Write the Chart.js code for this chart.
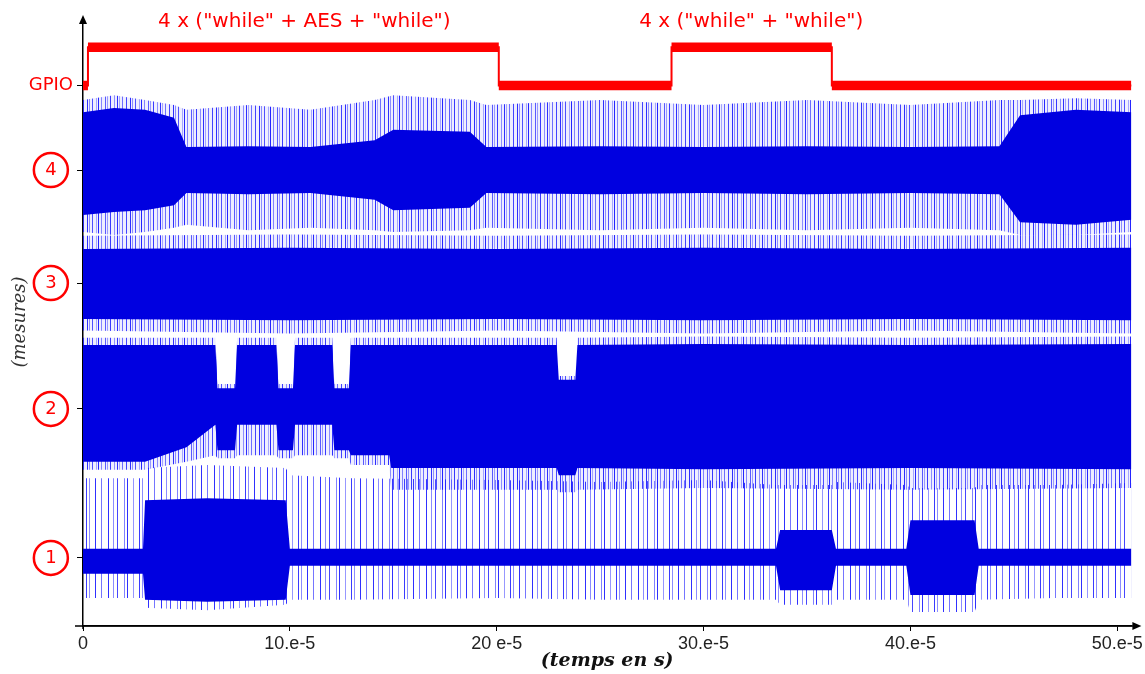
<!DOCTYPE html>
<html>
<head>
<meta charset="utf-8">
<script src="https://cdn.jsdelivr.net/npm/chart.js@4.4.0/dist/chart.umd.min.js"></script>
<style>
  html, body { margin: 0; padding: 0; background: #fff; }
</style>
</head>
<body>
<canvas id="mesures" width="1145" height="674"></canvas>
<script>
/* axe des temps (unité : 1e-5 s) */
const tickTemps = [0, 10, 20, 30, 40, 50];
const tickTempsLabels = ['0', '10.e-5', '20 e-5', '30.e-5', '40.e-5', '50.e-5'];

/* voies : libellés et niveau de repos */
const voies = ['1', '2', '3', '4', 'GPIO'];
const voiesNiveau = [11.2, 35.7, 56.4, 75.0, 88.9];

/* GPIO : créneaux */
const gpioT = [0, 0.24, 20.1, 28.45, 36.2, 50.7];
const gpioEtat = [88.9, 95.2, 88.9, 95.2, 88.9, 88.9];
const gpioBruit = 0.78;

const annotations = ['4 x ("while" + AES + "while")', '4 x ("while" + "while")'];
const annotT = [10.7, 32.3];
const annotNiveau = 99.3;

/* voie 4 : enveloppes (coeur dense, puis pics) */
const t4 = [0, 1.5, 3.0, 4.4, 5.0, 8, 11, 14.1, 15, 18.7, 19.5, 25, 30, 35, 40, 44.3, 45.3, 48, 50.7];
const voie4Haut = [84.5, 85.2, 84.9, 83.6, 78.8, 78.9, 78.8, 79.9, 81.6, 81.3, 78.8, 78.9, 78.8, 78.9, 78.8, 78.9, 84.0, 84.9, 84.5];
const voie4Bas = [67.6, 68.1, 68.4, 69.2, 71.2, 71.0, 71.2, 70.1, 68.4, 68.8, 71.2, 71.0, 71.2, 71.0, 71.2, 71.0, 66.4, 66.0, 66.8];
const voie4Pic = [86.5, 87.3, 86.5, 85.7, 84.9, 85.7, 84.9, 86.5, 87.3, 86.5, 85.7, 86.5, 85.7, 86.5, 85.7, 86.5, 86.5, 86.8, 86.5];
const voie4Creux = [64.8, 64.3, 64.8, 65.5, 66.0, 65.1, 65.5, 65.1, 64.8, 65.1, 65.5, 65.1, 65.5, 65.1, 65.5, 65.1, 64.3, 64.3, 64.8];

/* voie 3 */
const t3 = [0, 10, 20, 30, 40, 50.7];
const voie3Haut = [62.0, 62.2, 62.0, 62.2, 62.0, 62.2];
const voie3Bas = [50.5, 50.3, 50.5, 50.3, 50.5, 50.3];
const voie3Pic = [64.2, 64.4, 64.2, 64.4, 64.2, 64.4];
const voie3Creux = [48.6, 48.1, 48.6, 48.1, 48.6, 48.1];

/* voie 2 */
const t2 = [0, 3, 5, 6.4, 6.5, 7.35, 7.45, 9.35, 9.45, 10.15, 10.25, 12.05, 12.15, 12.85, 12.95, 14.8, 14.9, 22.9, 23.0, 23.8, 23.9, 30, 40, 50.7];
const voie2Haut = [46.2, 46.2, 46.2, 46.2, 39.1, 39.1, 46.2, 46.2, 39.1, 39.1, 46.2, 46.2, 39.1, 39.1, 46.2, 46.2, 46.2, 46.2, 40.5, 40.5, 46.2, 46.4, 46.2, 46.4];
const voie2Bas = [27.0, 27.0, 29.4, 33.1, 28.9, 28.9, 33.1, 33.1, 28.9, 28.9, 33.1, 33.1, 28.9, 28.9, 28.1, 28.1, 26.0, 26.0, 24.8, 24.8, 26.0, 25.8, 26.0, 25.8];
const voie2Pic = [47.4, 47.4, 47.4, 47.4, 39.8, 39.8, 47.4, 47.4, 39.8, 39.8, 47.4, 47.4, 39.8, 39.8, 47.4, 47.4, 47.4, 47.4, 41.1, 41.1, 47.4, 47.6, 47.4, 47.6];
const voie2Creux = [25.7, 25.7, 27.0, 28.1, 27.6, 27.6, 28.1, 28.1, 27.6, 27.6, 28.1, 28.1, 27.6, 27.6, 26.5, 26.5, 22.4, 22.4, 22.0, 22.0, 22.4, 22.7, 22.4, 22.7];

/* voie 1 */
const t1 = [0, 2.9, 3.0, 6, 9.8, 10.0, 13, 20, 25, 30, 33.5, 33.7, 36.2, 36.4, 39.8, 40.0, 43.1, 43.3, 47, 50.7];
const voie1Haut = [12.7, 12.7, 20.7, 21.0, 20.7, 12.7, 12.7, 12.7, 12.7, 12.7, 12.7, 15.8, 15.8, 12.7, 12.7, 17.4, 17.4, 12.7, 12.7, 12.7];
const voie1Bas = [8.6, 8.6, 4.3, 4.0, 4.3, 9.9, 9.9, 9.9, 9.9, 9.9, 9.9, 5.9, 5.9, 9.9, 9.9, 5.1, 5.1, 9.9, 9.9, 9.9];
const voie1Pic = [24.3, 24.3, 26.0, 26.5, 26.0, 24.8, 24.3, 24.0, 23.7, 24.0, 23.2, 23.2, 23.2, 23.7, 23.2, 22.7, 22.7, 23.2, 23.2, 23.5];
const voie1Creux = [4.6, 4.6, 3.0, 2.6, 3.5, 4.3, 4.3, 4.6, 4.3, 4.3, 4.3, 3.5, 3.5, 4.3, 4.3, 2.3, 2.3, 4.3, 4.6, 4.6];

const BLEU = '#0000e0';
const ROUGE = '#ff0000';

// motif de traits verticaux irréguliers pour les pics
function hachures(periode, traits, fond) {
    const c = document.createElement('canvas');
    c.width = periode; c.height = 1;
    const g = c.getContext('2d');
    g.fillStyle = fond;
    g.fillRect(0, 0, periode, 1);
    traits.forEach(([x, a]) => {
        g.fillStyle = 'rgba(25,25,255,' + a + ')';
        g.fillRect(x, 0, 1, 1);
    });
    return g.createPattern(c, 'repeat');
}
const motifDense = hachures(43, [[1, 0.9], [3, 0.45], [6, 0.75], [10, 0.35], [12, 0.95], [15, 0.5], [19, 0.7],
    [21, 0.4], [24, 0.85], [28, 0.45], [31, 0.9], [33, 0.35], [36, 0.6], [40, 0.8]], 'rgba(90,90,255,0.10)');
const motifClair = hachures(53, [[2, 0.9], [7, 0.5], [11, 0.8], [18, 0.55], [21, 0.9], [27, 0.45], [33, 0.85],
    [36, 0.5], [42, 0.9], [48, 0.6]], 'rgba(255,255,255,0)');

function points(t, v) {
    return t.map((x, i) => ({x: x, y: v[i]}));
}

function bande(t, haut, bas, couleur, ordre) {
    return [{
        data: points(t, haut), fill: '+1', backgroundColor: couleur,
        borderColor: 'rgba(0,0,0,0)', borderWidth: 0, pointRadius: 0, order: ordre
    }, {
        data: points(t, bas), fill: false,
        borderColor: 'rgba(0,0,0,0)', borderWidth: 0, pointRadius: 0, order: ordre
    }];
}

function creneau(t, niveaux, decal) {
    const pts = [];
    for (let i = 0; i < t.length; i++) {
        if (i > 0 && niveaux[i] !== niveaux[i - 1]) pts.push({x: t[i], y: niveaux[i - 1] + decal});
        pts.push({x: t[i], y: niveaux[i] + decal});
    }
    return pts;
}

const datasets = [
    {data: creneau(gpioT, gpioEtat, gpioBruit), fill: '+1', backgroundColor: ROUGE,
     borderColor: 'rgba(0,0,0,0)', borderWidth: 0, pointRadius: 0, order: 0},
    {data: creneau(gpioT, gpioEtat, -gpioBruit), fill: false,
     borderColor: 'rgba(0,0,0,0)', borderWidth: 0, pointRadius: 0, order: 0},
    {data: creneau(gpioT, gpioEtat, 0), fill: false, borderColor: ROUGE, borderWidth: 2, pointRadius: 0, order: 0},
    ...bande(t4, voie4Haut, voie4Bas, BLEU, 1),
    ...bande(t4, voie4Pic, voie4Creux, motifDense, 2),
    ...bande(t3, voie3Haut, voie3Bas, BLEU, 1),
    ...bande(t3, voie3Pic, voie3Creux, motifDense, 2),
    ...bande(t2, voie2Haut, voie2Bas, BLEU, 1),
    ...bande(t2, voie2Pic, voie2Creux, motifDense, 2),
    ...bande(t1, voie1Haut, voie1Bas, BLEU, 1),
    ...bande(t1, voie1Pic, voie1Creux, motifClair, 2)
];

const decor = {
    id: 'decor',
    afterDraw(chart) {
        const {ctx, chartArea: a, scales: {x, y}} = chart;
        ctx.save();
        ctx.fillStyle = '#000';
        ctx.strokeStyle = '#000';
        ctx.lineWidth = 1.5;
        // prolongement et flèches des axes
        ctx.beginPath();
        ctx.moveTo(a.left - 8, a.bottom);
        ctx.lineTo(a.right + 2, a.bottom);
        ctx.moveTo(a.left, a.bottom);
        ctx.lineTo(a.left, a.bottom + 3);
        ctx.stroke();
        ctx.beginPath();
        ctx.moveTo(a.right + 10, a.bottom);
        ctx.lineTo(a.right + 1, a.bottom - 4);
        ctx.lineTo(a.right + 1, a.bottom + 4);
        ctx.closePath();
        ctx.fill();
        ctx.beginPath();
        ctx.moveTo(a.left, a.top - 3);
        ctx.lineTo(a.left - 4, a.top + 6);
        ctx.lineTo(a.left + 4, a.top + 6);
        ctx.closePath();
        ctx.fill();
        // cercles autour des numéros de voie
        ctx.font = '18px "DejaVu Sans"';
        const cx = y.right - 6 - 4 - ctx.measureText('GPIO').width / 2;
        ctx.strokeStyle = ROUGE;
        ctx.lineWidth = 2.5;
        voies.forEach((v, i) => {
            if (v === 'GPIO') return;
            ctx.beginPath();
            ctx.arc(cx, y.getPixelForValue(voiesNiveau[i]), 17, 0, 2 * Math.PI);
            ctx.stroke();
        });
        // annotations au-dessus des créneaux
        ctx.fillStyle = ROUGE;
        ctx.font = '20px "DejaVu Sans"';
        ctx.textAlign = 'center';
        ctx.textBaseline = 'middle';
        annotations.forEach((txt, i) => {
            ctx.fillText(txt, x.getPixelForValue(annotT[i]), y.getPixelForValue(annotNiveau));
        });
        ctx.restore();
    }
};

const ctx_mesures = document.getElementById('mesures').getContext('2d');
const traces = new Chart(ctx_mesures, {
    type: 'line',
    data: {datasets: datasets},
    plugins: [decor],
    options: {
        responsive: false,
        animation: false,
        events: [],
        layout: {padding: {top: 18, right: 13, bottom: 2, left: 0}},
        plugins: {legend: {display: false}, tooltip: {enabled: false}},
        elements: {line: {tension: 0}},
        scales: {
            x: {
                type: 'linear', min: 0, max: 50.68,
                afterBuildTicks: s => { s.ticks = tickTemps.map(v => ({value: v})); },
                afterFit: s => { s.height = 46; },
                ticks: {
                    autoSkip: false, maxRotation: 0, padding: 2, color: '#222',
                    font: {family: 'Liberation Sans', size: 18},
                    callback: (v, i) => tickTempsLabels[i]
                },
                grid: {display: true, drawOnChartArea: false, drawTicks: true, tickLength: 5, color: '#000'},
                border: {display: true, color: '#000', width: 1.5},
                title: {
                    display: true, text: '(temps en s)', color: '#111', padding: {top: 0, bottom: 0},
                    font: {family: 'DejaVu Serif', size: 19, style: 'italic', weight: 'bold'}
                }
            },
            y: {
                type: 'linear', min: 0, max: 100,
                afterBuildTicks: s => { s.ticks = voiesNiveau.map(v => ({value: v})); },
                afterFit: s => { s.width = 83; },
                ticks: {
                    crossAlign: 'center', padding: 4, color: ROUGE,
                    font: {family: 'DejaVu Sans', size: 18},
                    callback: (v, i) => voies[i]
                },
                grid: {display: true, drawOnChartArea: false, drawTicks: true, tickLength: 6, color: '#000'},
                border: {display: true, color: '#000', width: 1.5},
                title: {
                    display: true, text: '(mesures)', color: '#333', padding: {top: 10, bottom: 0},
                    font: {family: 'DejaVu Serif', size: 18, style: 'italic'}
                }
            }
        }
    }
});
</script>
</body>
</html>
